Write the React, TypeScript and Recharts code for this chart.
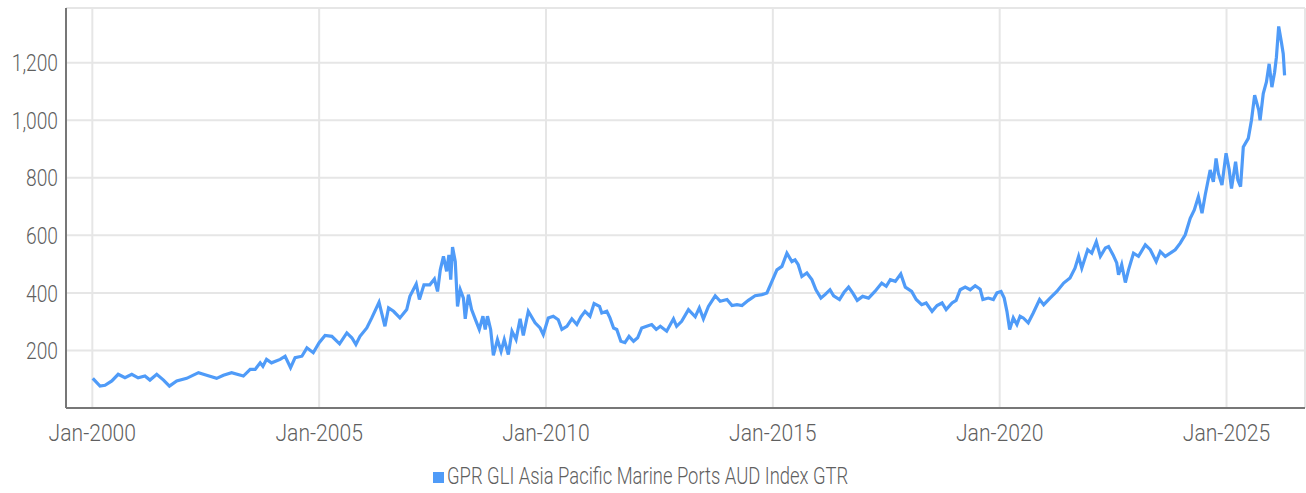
import React from 'react';
import { LineChart, Line, XAxis, YAxis, CartesianGrid, Legend } from 'recharts';

// decimal year of each reading
const dates = [
  2000.01, 2000.17, 2000.28, 2000.43, 2000.57, 2000.72, 2000.87, 2001.01, 2001.16, 2001.27,
  2001.42, 2001.57, 2001.70, 2001.86, 2002.08, 2002.34, 2002.52, 2002.74, 2002.89, 2003.07,
  2003.33, 2003.48, 2003.59, 2003.70, 2003.76, 2003.84, 2003.95, 2004.14, 2004.25, 2004.37,
  2004.47, 2004.62, 2004.73, 2004.87, 2005.00, 2005.13, 2005.28, 2005.45, 2005.61, 2005.72,
  2005.81, 2005.90, 2006.05, 2006.16, 2006.32, 2006.45, 2006.53, 2006.64, 2006.78, 2006.93,
  2007.00, 2007.14, 2007.21, 2007.31, 2007.44, 2007.54, 2007.61, 2007.67, 2007.74, 2007.81,
  2007.86, 2007.90, 2007.94, 2008.00, 2008.05, 2008.11, 2008.18, 2008.22, 2008.29, 2008.36,
  2008.46, 2008.53, 2008.61, 2008.66, 2008.71, 2008.78, 2008.84, 2008.93, 2009.01, 2009.08,
  2009.17, 2009.25, 2009.34, 2009.43, 2009.50, 2009.61, 2009.76, 2009.87, 2009.94, 2010.05,
  2010.16, 2010.27, 2010.35, 2010.46, 2010.57, 2010.68, 2010.77, 2010.86, 2010.97, 2011.06,
  2011.18, 2011.23, 2011.34, 2011.41, 2011.49, 2011.56, 2011.65, 2011.74, 2011.83, 2011.93,
  2012.02, 2012.11, 2012.22, 2012.33, 2012.43, 2012.52, 2012.66, 2012.81, 2012.88, 2012.99,
  2013.14, 2013.29, 2013.38, 2013.47, 2013.58, 2013.73, 2013.84, 2013.99, 2014.10, 2014.21,
  2014.32, 2014.46, 2014.61, 2014.76, 2014.87, 2014.98, 2015.09, 2015.20, 2015.31, 2015.42,
  2015.49, 2015.56, 2015.64, 2015.75, 2015.86, 2015.95, 2016.06, 2016.15, 2016.26, 2016.34,
  2016.47, 2016.57, 2016.67, 2016.76, 2016.86, 2016.98, 2017.11, 2017.25, 2017.40, 2017.50,
  2017.59, 2017.70, 2017.82, 2017.92, 2018.06, 2018.16, 2018.28, 2018.38, 2018.51, 2018.62,
  2018.73, 2018.82, 2018.95, 2019.04, 2019.13, 2019.24, 2019.35, 2019.46, 2019.57, 2019.63,
  2019.75, 2019.86, 2019.94, 2020.03, 2020.10, 2020.16, 2020.22, 2020.30, 2020.38, 2020.45,
  2020.52, 2020.63, 2020.74, 2020.88, 2020.97, 2021.11, 2021.26, 2021.41, 2021.55, 2021.66,
  2021.74, 2021.81, 2021.94, 2022.03, 2022.13, 2022.22, 2022.33, 2022.40, 2022.50, 2022.58,
  2022.62, 2022.69, 2022.77, 2022.84, 2022.95, 2023.06, 2023.21, 2023.32, 2023.45, 2023.54,
  2023.65, 2023.76, 2023.87, 2023.98, 2024.09, 2024.20, 2024.29, 2024.38, 2024.46, 2024.53,
  2024.64, 2024.71, 2024.77, 2024.82, 2024.90, 2024.99, 2025.06, 2025.11, 2025.20, 2025.25,
  2025.31, 2025.37, 2025.48, 2025.55, 2025.62, 2025.71, 2025.74, 2025.81, 2025.88, 2025.94,
  2026.00, 2026.06, 2026.10, 2026.15, 2026.21, 2026.25, 2026.28,
];

const indexValues = [
  103, 76, 79, 94, 117, 105, 117, 105, 111, 97,
  117, 97, 76, 94, 103, 123, 114, 103, 114, 123,
  111, 134, 134, 157, 145, 169, 157, 169, 180, 140,
  175, 180, 209, 192, 227, 252, 249, 223, 261, 244,
  221, 249, 278, 313, 367, 284, 348, 336, 313, 342,
  388, 431, 377, 428, 428, 448, 405, 480, 527, 475,
  532, 446, 559, 509, 353, 411, 382, 310, 394, 342,
  301, 273, 319, 273, 319, 273, 183, 238, 197, 238,
  186, 267, 238, 310, 252, 336, 296, 278, 255, 313,
  319, 307, 273, 284, 310, 290, 317, 336, 319, 363,
  353, 330, 336, 313, 278, 273, 232, 227, 249, 232,
  244, 278, 284, 290, 273, 284, 267, 310, 284, 301,
  342, 317, 348, 310, 353, 390, 371, 377, 356, 359,
  356, 374, 390, 394, 400, 440, 480, 492, 538, 509,
  515, 498, 457, 469, 446, 411, 382, 394, 411, 390,
  377, 402, 420, 400, 374, 388, 382, 405, 434, 423,
  446, 440, 466, 420, 405, 377, 359, 365, 336, 356,
  365, 342, 365, 374, 411, 420, 411, 425, 413, 377,
  382, 377, 400, 405, 382, 336, 273, 313, 290, 319,
  313, 296, 330, 377, 359, 382, 405, 434, 452, 486,
  527, 486, 550, 538, 578, 527, 556, 561, 532, 504,
  463, 498, 436, 480, 538, 527, 567, 550, 509, 544,
  527, 538, 550, 573, 602, 659, 688, 734, 677, 740,
  827, 786, 867, 815, 775, 885, 827, 763, 856, 792,
  769, 907, 937, 1000, 1087, 1035, 1000, 1093, 1133, 1196,
  1115, 1167, 1219, 1326, 1271, 1231, 1156,
];

const yearTicks = [2000, 2005, 2010, 2015, 2020, 2025];
const valueTicks = [200, 400, 600, 800, 1000, 1200];
const seriesName = 'GPR GLI Asia Pacific Marine Ports AUD Index GTR';

const data = dates.map((d, i) => ({ date: d, value: indexValues[i] }));

const BLUE = '#4f9bf8';
const TEXT = '#5f5f5f';
const FONT = "Roboto, 'Noto Sans', sans-serif";

// no condensed face is installed, so squeeze Roboto Light sideways
function YTick({ x, y, payload }: any) {
  return (
    <g transform={`translate(${x},${y})`}>
      <text transform='scale(0.8,1)' textAnchor='end' dy='0.36em' fill={TEXT} fontSize={24} fontWeight={300} fontFamily={FONT}>
        {payload.value.toLocaleString('en-US')}
      </text>
    </g>
  );
}

function XTick({ x, y, payload }: any) {
  return (
    <g transform={`translate(${x},${y})`}>
      <text transform='scale(0.88,1)' textAnchor='middle' dy='0.71em' fill={TEXT} fontSize={24} fontWeight={300} fontFamily={FONT}>
        {`Jan-${payload.value}`}
      </text>
    </g>
  );
}

function LegendBox() {
  return (
    <div style={{ position: 'relative', height: 40, fontFamily: FONT, fontWeight: 300, fontSize: 23, color: TEXT }}>
      <span style={{ position: 'absolute', left: 433, top: 19, width: 11, height: 11, background: BLUE }} />
      <span style={{ position: 'absolute', left: 447, top: 12, whiteSpace: 'nowrap', lineHeight: '24px', transform: 'scaleX(0.8)', transformOrigin: 'left center' }}>
        {seriesName}
      </span>
    </div>
  );
}

export default function App() {
  return (
    <div style={{ position: 'absolute', left: 0, top: 0 }}>
      <LineChart width={1306} height={493} data={data} margin={{ top: 8, right: 1, left: 0, bottom: 0 }}>
        <CartesianGrid stroke='#e6e6e6' strokeWidth={2} />
        <XAxis
          dataKey='date'
          type='number'
          domain={[1999.42, 2026.73]}
          ticks={yearTicks}
          allowDataOverflow
          height={45}
          tickLine={false}
          tickMargin={10}
          axisLine={{ stroke: '#777', strokeWidth: 2 }}
          tick={<XTick />}
        />
        <YAxis
          width={66}
          domain={[0, 1390]}
          ticks={valueTicks}
          tickLine={false}
          axisLine={{ stroke: '#777', strokeWidth: 2 }}
          tick={<YTick />}
        />
        <Legend verticalAlign='bottom' height={40} content={() => <LegendBox />} />
        <Line
          type='linear'
          dataKey='value'
          name={seriesName}
          stroke={BLUE}
          strokeWidth={3.2}
          dot={false}
          isAnimationActive={false}
        />
      </LineChart>
    </div>
  );
}
